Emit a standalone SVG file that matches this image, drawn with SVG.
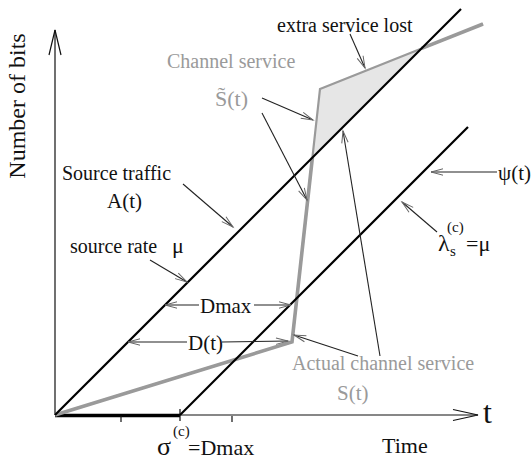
<svg xmlns="http://www.w3.org/2000/svg" width="531" height="462" viewBox="0 0 531 462">
  <defs>
    <marker id="ah" markerUnits="userSpaceOnUse" markerWidth="14" markerHeight="10" refX="12" refY="4" orient="auto" overflow="visible">
      <path d="M0,0.8 L12,4 L0,7.2" fill="none" stroke="#666" stroke-width="1"/>
    </marker>
  </defs>
  <style>
    text { font-family: "Liberation Serif", "Times New Roman", serif; fill: #111; }
    .g { fill: #9a9a9a; }
    .ptr { fill: none; stroke: #222; stroke-width: 1.1; marker-end: url(#ah); }
    .axis { fill: none; stroke: #111; stroke-width: 1.2; }
    .bl { fill: none; stroke: #000; stroke-width: 2.2; }
    .gl { fill: none; stroke: #9a9a9a; stroke-linejoin: miter; }
  </style>

  <g id="axes">
    <path class="axis" d="M55,415 L55,30"/>
    <path class="axis" d="M49,55 L55,30 L61,55"/>
    <path class="axis" d="M55,415 L478,415"/>
    <path class="axis" d="M453,409.5 L478,415 L453,420.5"/>
    <path d="M55,415.5 L180,415.5" stroke="#000" stroke-width="3.5" fill="none"/>
    <path class="axis" d="M121,416 L121,422 M180,409 L180,421 M232,416 L232,422"/>
    <text transform="translate(25,106) rotate(-90)" font-size="24" text-anchor="middle">Number of bits</text>
    <text x="483" y="423" font-size="32">t</text>
    <text x="382" y="453" font-size="22">Time</text>
  </g>

  <g id="shaded">
    <polygon points="312.4,157.6 320,89 421.7,48.3" fill="#e6e6e6"/>
  </g>

  <g id="channel-service">
    <path class="gl" stroke-width="2.2" d="M55,415 L292,342 L320,89 L483,24"/>
    <path class="gl" stroke-width="3.6" d="M55,415 L292,342 L312.4,157.6"/>
    <path class="gl" stroke="#858585" stroke-width="3.6" d="M421.7,48.3 L483,24"/>
  </g>

  <g id="source-traffic">
    <path class="bl" d="M55,415 L461,9"/>
  </g>

  <g id="psi">
    <path class="bl" d="M180,415 L468,127"/>
  </g>

  <g id="connectors">
    <path class="ptr" d="M350,34 L365,68"/>
    <path class="ptr" d="M262,98 L313,120"/>
    <path class="ptr" d="M262,113 L307,200"/>
    <path class="ptr" d="M183,184 L233,227"/>
    <path class="ptr" d="M150,260 L187,282"/>
    <path class="ptr" d="M199,305 L165,305"/>
    <path class="ptr" d="M254,305 L291,305"/>
    <path class="ptr" d="M187,342 L128,342"/>
    <path class="ptr" d="M222,342 L288,341"/>
    <path class="ptr" d="M358,356 L294,335"/>
    <path class="ptr" d="M380,356 L343,131"/>
    <path class="ptr" d="M497,172 L431,172"/>
    <path class="ptr" d="M437,232 L402,202"/>
  </g>

  <g id="labels">
    <text x="277" y="32" font-size="20">extra service lost</text>
    <text class="g" x="167" y="68" font-size="20">Channel service</text>
    <text class="g" x="215" y="106" font-size="22">S̃(t)</text>
    <text x="62" y="180" font-size="20">Source traffic</text>
    <text x="107" y="208" font-size="21">A(t)</text>
    <text x="70" y="253" font-size="20">source rate</text>
    <text x="172" y="253" font-size="22">μ</text>
    <text x="200" y="313" font-size="21">Dmax</text>
    <text x="188" y="350" font-size="21">D(t)</text>
    <text class="g" x="292" y="370" font-size="20">Actual channel service</text>
    <text class="g" x="337" y="400" font-size="21">S(t)</text>
    <text x="498" y="180" font-size="21">ψ(t)</text>
    <text x="438" y="251" font-size="24">λ</text>
    <text x="450" y="256" font-size="15">s</text>
    <text x="447" y="232" font-size="15">(c)</text>
    <text x="466" y="251" font-size="22">=μ</text>
    <text x="173" y="436" font-size="15">(c)</text>
    <text x="157" y="455" font-size="26">σ</text>
    <text x="188" y="455" font-size="22">=Dmax</text>
  </g>
</svg>
